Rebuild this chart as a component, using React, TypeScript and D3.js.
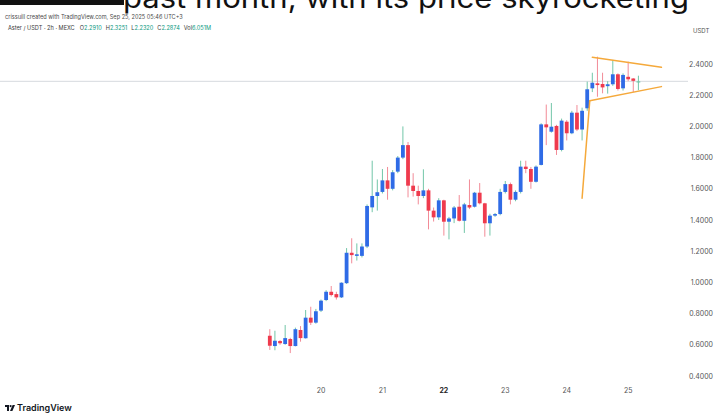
import * as d3 from "d3";

const W = 718;
const H = 417;

// 2h candles, Aster / USDT (MEXC)
const startTime = new Date(2025, 8, 19, 4, 0);
const opens = [
  0.658, 0.592, 0.624, 0.605, 0.637, 0.592, 0.695, 0.642, 0.774, 0.742,
  0.819, 0.887, 0.94, 0.925, 0.904, 0.995, 1.19, 1.17, 1.17, 1.23,
  1.481, 1.554, 1.58, 1.654, 1.6, 1.71, 1.8, 1.88, 1.62, 1.586,
  1.554, 1.59, 1.46, 1.417, 1.526, 1.389, 1.41, 1.485, 1.395, 1.496,
  1.485, 1.575, 1.507, 1.379, 1.428, 1.438, 1.58, 1.63, 1.53, 1.58,
  1.742, 1.727, 1.645, 1.753, 2.013, 1.966, 2.003, 1.849, 2.03, 1.956,
  2.088, 1.98, 2.116, 2.244, 2.276, 2.272, 2.258, 2.27, 2.334, 2.244,
  2.318, 2.307, 2.286,
];
const closes = [
  0.594, 0.626, 0.61, 0.643, 0.592, 0.7, 0.643, 0.774, 0.742, 0.815,
  0.883, 0.94, 0.919, 0.904, 0.998, 1.19, 1.175, 1.18, 1.23, 1.49,
  1.554, 1.578, 1.654, 1.6, 1.706, 1.8, 1.88, 1.62, 1.586, 1.554,
  1.59, 1.46, 1.417, 1.526, 1.389, 1.41, 1.48, 1.395, 1.5, 1.48,
  1.575, 1.507, 1.379, 1.428, 1.438, 1.58, 1.63, 1.53, 1.58, 1.742,
  1.727, 1.645, 1.742, 2.013, 1.994, 1.998, 1.849, 2.037, 1.956, 2.088,
  1.98, 2.1, 2.238, 2.28, 2.265, 2.25, 2.27, 2.334, 2.24, 2.33,
  2.302, 2.292, 2.289,
];
const highs = [
  0.7, 0.69, 0.63, 0.727, 0.645, 0.71, 0.72, 0.823, 0.844, 0.83,
  0.89, 0.95, 0.977, 0.94, 1.0, 1.22, 1.283, 1.25, 1.25, 1.5,
  1.78, 1.66, 1.727, 1.74, 1.72, 1.81, 2.0, 1.9, 1.7, 1.62,
  1.725, 1.6, 1.48, 1.54, 1.53, 1.42, 1.49, 1.56, 1.51, 1.66,
  1.58, 1.637, 1.51, 1.44, 1.445, 1.6, 1.65, 1.64, 1.59, 1.78,
  1.78, 1.74, 1.75, 2.02, 2.14, 2.15, 2.01, 2.05, 2.04, 2.1,
  2.137, 2.12, 2.287, 2.344, 2.447, 2.344, 2.29, 2.426, 2.34, 2.34,
  2.415, 2.31, 2.325,
];
const lows = [
  0.567, 0.565, 0.6, 0.6, 0.547, 0.59, 0.62, 0.64, 0.727, 0.735,
  0.81, 0.88, 0.91, 0.89, 0.9, 0.99, 1.122, 1.14, 1.16, 1.22,
  1.45, 1.46, 1.57, 1.53, 1.59, 1.7, 1.79, 1.545, 1.55, 1.5,
  1.54, 1.34, 1.39, 1.4, 1.3, 1.276, 1.38, 1.39, 1.317, 1.47,
  1.48, 1.5, 1.293, 1.3, 1.42, 1.43, 1.57, 1.5, 1.52, 1.57,
  1.7, 1.6, 1.64, 1.75, 1.88, 1.96, 1.817, 1.84, 1.91, 1.95,
  1.97, 1.91, 2.1, 2.22, 2.19, 2.212, 2.21, 2.26, 2.23, 2.23,
  2.29, 2.22, 2.232,
];

const priceTicks = [0.4, 0.6, 0.8, 1.0, 1.2, 1.4, 1.6, 1.8, 2.0, 2.2, 2.4];
const dayLabels = ["20", "21", "22", "23", "24", "25"];

// hand-drawn pennant: [candle index, price]
const flagpole: [number, number][] = [[61.0, 1.539], [62.9, 2.165]];
const upperLine: [number, number][] = [[63.1, 2.443], [76.9, 2.379]];
const lowerLine: [number, number][] = [[62.9, 2.165], [76.9, 2.255]];

const UP = "#2f6be6";
const DOWN = "#ef3a4d";
const UP_WICK = "#72c6a8";
const DOWN_WICK = "#f28b97";
const FONT = "Inter, 'Liberation Sans', sans-serif";

const timeAt = (i: number) => d3.timeHour.offset(startTime, i * 2);

export default function App() {
  const x = d3
    .scaleTime()
    .domain([timeAt(0), timeAt(72)])
    .range([269.8, 638.4]);
  const y = d3.scaleLinear().domain([0.4, 2.4]).range([376, 64]);
  const xi = (i: number) => x(timeAt(i));

  const candles = opens.map((o, i) => ({
    i,
    o,
    c: closes[i],
    h: highs[i],
    l: lows[i],
  }));
  const days = d3.timeDay.range(timeAt(0), timeAt(73));
  const lastClose = closes[closes.length - 1];
  const line = d3
    .line<[number, number]>()
    .x((d) => xi(d[0]))
    .y((d) => y(d[1]));

  return (
    <svg
      width={W}
      height={H}
      style={{ position: "absolute", left: 0, top: 0, background: "#fff" }}
      fontFamily={FONT}
    >
      <rect width={W} height={H} fill="#fff" />

      {/* bleed of the article headline above the screenshot */}
      <rect x={0} y={0} width={124} height={5} fill="#111" />
      <text
        x={123}
        y={8}
        fontSize={28}
        fill="#111"
        textLength={566}
        lengthAdjust="spacingAndGlyphs"
      >
        past month, with its price skyrocketing
      </text>

      <text x={5} y={19} fontSize={5.6} fill="#4a4a4a">
        crissuill created with TradingView.com, Sep 25, 2025 05:46 UTC+3
      </text>
      <text x={8} y={30} fontSize={5.6} fill="#3a3a3a">
        Aster / USDT · 2h · MEXC
        <tspan dx={5}>O</tspan>
        <tspan fill="#089981">2.2910</tspan>
        <tspan dx={4}>H</tspan>
        <tspan fill="#089981">2.3251</tspan>
        <tspan dx={4}>L</tspan>
        <tspan fill="#089981">2.2320</tspan>
        <tspan dx={4}>C</tspan>
        <tspan fill="#089981">2.2874</tspan>
        <tspan dx={4}>Vol</tspan>
        <tspan fill="#089981">6.051M</tspan>
      </text>

      {/* last price line */}
      <line
        x1={0}
        x2={688}
        y1={y(lastClose)}
        y2={y(lastClose)}
        stroke="#d6d9de"
        strokeWidth={1}
      />

      {candles.map((d) => {
        const up = d.c >= d.o;
        const cx = xi(d.i);
        const top = y(Math.max(d.o, d.c));
        const bot = y(Math.min(d.o, d.c));
        return (
          <g key={d.i}>
            <line
              x1={cx}
              x2={cx}
              y1={y(d.h)}
              y2={y(d.l)}
              stroke={up ? UP_WICK : DOWN_WICK}
              strokeWidth={1}
            />
            <rect
              x={cx - 1.9}
              y={top}
              width={3.8}
              height={Math.max(1.2, bot - top)}
              fill={d.i === 72 ? UP_WICK : up ? UP : DOWN}
            />
          </g>
        );
      })}

      {[flagpole, upperLine, lowerLine].map((pts, k) => (
        <path
          key={k}
          d={line(pts) ?? ""}
          fill="none"
          stroke="#f5a93b"
          strokeWidth={1.5}
          strokeLinecap="round"
        />
      ))}

      {/* price axis */}
      <text x={693} y={33} fontSize={6} fill="#555">
        USDT
      </text>
      {priceTicks.map((p) => (
        <text
          key={p}
          x={713}
          y={y(p) + 2.5}
          fontSize={7}
          fill="#555"
          textAnchor="end"
        >
          {p.toFixed(4)}
        </text>
      ))}

      {/* time axis */}
      {days.map((d, k) => (
        <text
          key={k}
          x={x(d)}
          y={393}
          fontSize={7}
          textAnchor="middle"
          fill={dayLabels[k] === "22" ? "#222" : "#555"}
          fontWeight={dayLabels[k] === "22" ? 700 : 400}
        >
          {dayLabels[k]}
        </text>
      ))}

      {/* TradingView mark */}
      <g transform="translate(5,405)" fill="#131722">
        <rect x={0} y={0} width={4} height={2} />
        <rect x={2} y={0} width={2} height={6} />
        <circle cx={5.6} cy={1.1} r={1.1} />
        <path d="M7.6 0 L10 0 L7.4 6 L5 6 Z" />
      </g>
      <text x={17} y={411} fontSize={9} fontWeight={600} fill="#131722">
        TradingView
      </text>
    </svg>
  );
}
